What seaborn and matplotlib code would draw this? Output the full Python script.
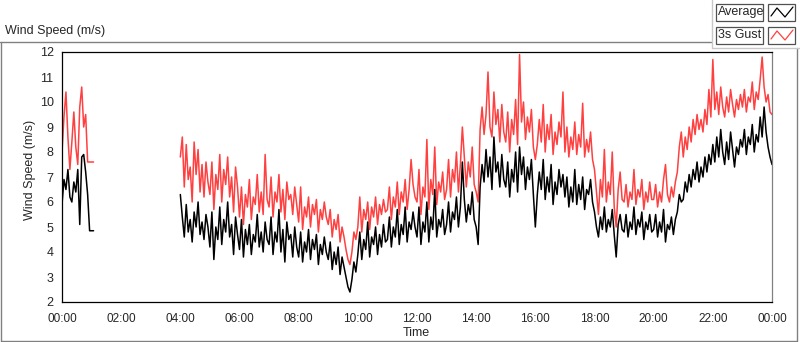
import numpy as np
import pandas as pd
import matplotlib
matplotlib.use("Agg")
import matplotlib.pyplot as plt
import seaborn as sns
from matplotlib.lines import Line2D
from matplotlib.patches import Rectangle
from matplotlib.ticker import MultipleLocator, FuncFormatter

# wind logger, one sample every 4 minutes (m/s)
STEP_MIN = 4

# 00:00 - 01:04, then the logger drops out until 04:00
early_avg = [5.9, 6.9, 6.5, 7.3, 6.2, 6.0, 6.8, 6.4, 7.3, 5.1, 7.8, 7.9, 7.2,
             6.3, 4.85, 4.85, 4.85]
early_gust = [8.0, 9.4, 10.4, 8.6, 7.3, 8.4, 9.6, 8.2, 7.5, 9.8, 10.6, 9.0, 9.5,
              7.6, 7.6, 7.6, 7.6]

# 04:00 - 24:00, one row per hour
day_avg = [
    6.3, 5.4, 4.6, 5.9, 4.8, 5.3, 4.4, 5.6, 5.0, 6.0, 4.7, 5.2, 4.5, 5.5, 5.0,  # 04
    4.2, 5.6, 3.7, 5.0, 4.5, 5.8, 4.3, 5.3, 4.8, 6.0, 4.6, 5.1, 3.9, 5.4, 4.7,  # 05
    4.1, 5.3, 3.8, 4.9, 4.3, 5.1, 3.9, 4.7, 4.4, 5.5, 4.2, 4.8, 4.0, 5.2, 4.5,  # 06
    4.3, 5.4, 3.9, 4.8, 4.4, 5.7, 4.0, 4.9, 3.6, 5.2, 4.5, 4.7, 3.8, 5.0, 4.2,  # 07
    3.8, 4.8, 3.6, 4.4, 4.0, 4.9, 3.7, 4.5, 4.1, 4.7, 3.5, 4.3, 3.9, 4.6, 4.0,  # 08
    3.7, 4.4, 3.3, 4.0, 3.5, 4.2, 3.1, 3.8, 3.4, 3.0, 2.6, 2.4, 2.9, 3.6, 3.2,  # 09
    3.9, 4.8, 3.7, 4.5, 4.1, 5.2, 3.8, 4.6, 4.3, 5.0, 3.9, 4.7, 4.2, 5.1, 4.4,  # 10
    4.5, 5.4, 4.2, 5.0, 4.6, 5.7, 4.3, 5.1, 4.7, 5.8, 4.4, 5.2, 4.9, 5.6, 5.0,  # 11
    4.6, 5.8, 4.3, 5.2, 4.8, 6.0, 4.4, 5.4, 4.9, 6.5, 4.6, 5.3, 5.0, 5.7, 4.7,  # 12
    5.1, 6.0, 4.8, 5.6, 5.3, 6.2, 5.0, 5.8, 7.6, 6.1, 5.2, 5.9, 5.5, 6.4, 5.3,  # 13
    5.0, 4.3, 6.6, 7.5, 6.8, 8.1, 7.0, 7.8, 6.5, 8.6, 7.2, 7.6, 6.6, 7.9, 6.9,  # 14
    6.6, 7.6, 6.2, 7.3, 6.8, 8.0, 6.4, 8.2, 7.1, 7.8, 6.5, 7.4, 6.9, 7.7, 6.3,  # 15
    5.0, 6.3, 7.2, 6.5, 7.7, 6.1, 7.0, 6.4, 7.5, 5.9, 6.8, 6.3, 7.3, 6.6, 7.1,  # 16
    6.2, 7.0, 5.8, 6.6, 6.0, 7.3, 5.9, 6.7, 6.1, 7.0, 5.7, 6.5, 6.3, 6.9, 6.0,  # 17
    5.6, 5.0, 4.6, 5.4, 4.9, 5.8, 4.8, 5.3, 5.0, 5.7, 4.7, 3.8, 5.1, 5.5, 4.9,  # 18
    4.8, 5.5, 4.6, 5.2, 4.9, 5.8, 4.7, 5.3, 5.0, 5.6, 4.5, 5.2, 4.9, 5.5, 4.8,  # 19
    4.9, 5.5, 4.6, 5.2, 4.8, 5.7, 4.4, 5.1, 4.9, 5.4, 4.7, 5.3, 5.6, 6.3, 6.0,  # 20
    6.1, 6.8, 6.4, 7.1, 6.6, 7.3, 6.9, 7.6, 6.8, 7.4, 7.0, 7.8, 7.2, 7.9, 7.5,  # 21
    8.3, 7.6, 8.6, 7.8, 8.9, 8.0, 7.5, 8.4, 7.7, 8.8, 8.1, 7.4, 8.2, 7.9, 8.5,  # 22
    8.2, 8.9, 7.9, 8.6, 8.3, 9.1, 8.0, 8.7, 8.4, 9.4, 8.6, 9.8, 8.8, 8.2, 7.8,  # 23
    7.5,
]
day_gust = [
    7.8, 8.6, 6.6, 8.3, 6.9, 7.4, 6.0, 8.4, 7.1, 8.1, 6.4, 7.5, 6.2, 7.6, 6.8,  # 04
    6.3, 7.6, 5.7, 7.1, 6.5, 7.9, 6.0, 7.3, 6.7, 7.8, 6.2, 7.0, 5.6, 7.4, 6.6,  # 05
    5.4, 6.6, 5.1, 6.3, 5.8, 6.9, 5.3, 6.2, 5.9, 7.1, 5.6, 6.4, 5.5, 7.9, 6.1,  # 06
    5.8, 7.0, 5.4, 6.4, 6.0, 7.1, 5.6, 6.5, 5.3, 6.8, 6.1, 6.3, 5.5, 6.6, 5.9,  # 07
    5.2, 6.6, 4.9, 5.8, 5.4, 6.2, 5.0, 5.9, 5.5, 6.1, 4.8, 5.7, 5.3, 6.0, 5.4,  # 08
    5.1, 5.7, 4.6, 5.3, 4.9, 5.5, 4.4, 5.0, 4.6, 4.1, 3.7, 3.5, 4.0, 4.8, 4.5,  # 09
    5.0, 6.2, 4.8, 5.7, 5.3, 6.0, 4.9, 5.8, 5.4, 6.2, 5.1, 5.9, 5.5, 6.1, 5.6,  # 10
    5.7, 6.6, 5.3, 6.2, 5.8, 6.8, 5.5, 6.4, 6.0, 6.9, 5.7, 6.5, 7.7, 6.7, 6.2,  # 11
    6.0, 7.3, 5.5, 6.6, 6.2, 8.5, 5.7, 6.9, 6.3, 8.2, 5.9, 6.8, 6.4, 7.2, 6.1,  # 12
    6.5, 7.7, 6.2, 7.3, 6.8, 8.0, 6.4, 7.5, 9.0, 7.8, 6.6, 7.6, 7.0, 8.2, 6.7,  # 13
    6.4, 6.0, 8.9, 9.8, 8.7, 9.5, 11.2, 9.0, 8.6, 10.4, 9.1, 9.7, 8.4, 9.9, 8.8,  # 14
    8.4, 9.6, 8.0, 9.3, 8.7, 10.1, 8.3, 11.9, 9.2, 10.0, 8.5, 9.4, 8.8, 9.7, 8.2,  # 15
    7.7, 8.3, 9.3, 8.4, 9.9, 8.0, 9.1, 8.5, 9.5, 7.9, 8.8, 8.3, 9.2, 8.6, 10.4,  # 16
    8.0, 9.0, 7.8, 8.6, 8.1, 9.2, 7.9, 8.7, 8.2, 9.95, 7.8, 8.5, 8.0, 8.8, 7.7,  # 17
    7.3, 6.4, 5.5, 6.9, 6.2, 8.1, 6.0, 6.8, 6.3, 8.0, 5.8, 5.0, 6.5, 7.2, 6.1,  # 18
    6.0, 6.7, 5.8, 6.4, 6.1, 7.3, 5.9, 6.5, 6.2, 6.9, 5.7, 6.4, 6.0, 6.8, 6.1,  # 19
    6.1, 6.7, 5.8, 6.4, 6.0, 6.9, 7.5, 6.3, 6.0, 6.6, 6.2, 6.8, 7.2, 8.2, 8.8,  # 20
    7.8, 8.6, 8.1, 9.0, 8.4, 9.3, 8.7, 9.5, 8.9, 9.3, 8.8, 9.7, 9.1, 10.5, 9.4,  # 21
    11.7, 9.7, 10.4, 9.5, 10.6, 9.8, 9.4, 10.2, 9.6, 10.5, 9.9, 9.4, 10.1, 9.7, 10.3,  # 22
    9.8, 10.5, 9.6, 10.2, 10.0, 10.8, 9.7, 10.4, 10.1, 10.9, 11.8, 10.6, 10.0, 10.3, 9.6,  # 23
    9.5,
]

RED = "#ff4040"
GRAY = "#808080"
W, H = 800, 342


def make_frame(avg, gust, start_hour):
    hours = start_hour + np.arange(len(avg)) * STEP_MIN / 60
    return pd.DataFrame({"Time": hours, "Average": avg, "3s Gust": gust})


def fx(x):
    return x / W


def fy(y):
    return 1 - y / H


segments = [make_frame(early_avg, early_gust, 0), make_frame(day_avg, day_gust, 4)]

sns.set_style("white")
plt.rcParams["font.family"] = ["Liberation Sans", "DejaVu Sans"]

fig = plt.figure(figsize=(W / 100, H / 100), dpi=100)
ax = fig.add_axes([fx(62), fy(302), fx(772) - fx(62), fy(52) - fy(302)])

for df in segments:
    sns.lineplot(data=df, x="Time", y="3s Gust", color=RED, lw=1.1, ax=ax)
    sns.lineplot(data=df, x="Time", y="Average", color="black", lw=1.1, ax=ax)

ax.set_xlim(0, 24)
ax.set_ylim(2, 12)
ax.yaxis.set_major_locator(MultipleLocator(1))
ax.xaxis.set_major_locator(MultipleLocator(2))
ax.xaxis.set_minor_locator(MultipleLocator(1 / 3))
ax.xaxis.set_major_formatter(FuncFormatter(lambda v, _: f"{int(round(v)) % 24:02d}:00"))

ax.tick_params(axis="y", direction="out", length=4, width=0.8, pad=2, labelsize=9)
ax.tick_params(axis="x", which="major", direction="out", length=5, width=0.8, pad=3, labelsize=8.5)
ax.tick_params(axis="x", which="minor", direction="out", length=3, width=0.8)

for side in ["top", "left", "bottom"]:
    ax.spines[side].set_color("black")
    ax.spines[side].set_linewidth(0.9)
ax.spines["right"].set_color(GRAY)
ax.spines["right"].set_linewidth(0.9)

ax.set_ylabel("Wind Speed (m/s)", fontsize=9)
ax.yaxis.set_label_coords(-0.037, 0.53)
ax.set_xlabel("Time", fontsize=9)
ax.xaxis.set_label_coords(0.499, -0.1)

# panel title and outer frame
fig.text(fx(5), fy(31), "Wind Speed (m/s)", fontsize=9, va="center", ha="left")
frame = [
    ((0, 711), (42, 42), GRAY),
    ((1, 1), (42, 341), GRAY),
    ((1, 797), (341, 341), GRAY),
    ((797, 797), (48, 341), GRAY),
    ((712, 712), (0, 48), "#c8c8c8"),
    ((712, 800), (48, 48), "#c8c8c8"),
]
for xs, ys, c in frame:
    fig.add_artist(Line2D([fx(v) for v in xs], [fy(v) for v in ys], color=c, lw=1.0))

# legend boxes
legend_rows = [("Average", "black", 4), ("3s Gust", RED, 27)]
for label, color, top in legend_rows:
    for x0, x1 in [(716, 763), (768, 795)]:
        fig.add_artist(Rectangle((fx(x0), fy(top + 17)), fx(x1) - fx(x0), fy(top) - fy(top + 17),
                                 transform=fig.transFigure, facecolor="white",
                                 edgecolor="#505050", lw=0.9))
    fig.text(fx(718), fy(top + 8.5), label, fontsize=9, va="center", ha="left")
    zig_x = [771, 777, 785, 793]
    zig_y = [top + 12, top + 4, top + 13, top + 3]
    fig.add_artist(Line2D([fx(v) for v in zig_x], [fy(v) for v in zig_y], color=color, lw=0.9))

fig.savefig("out.png", dpi=100)
